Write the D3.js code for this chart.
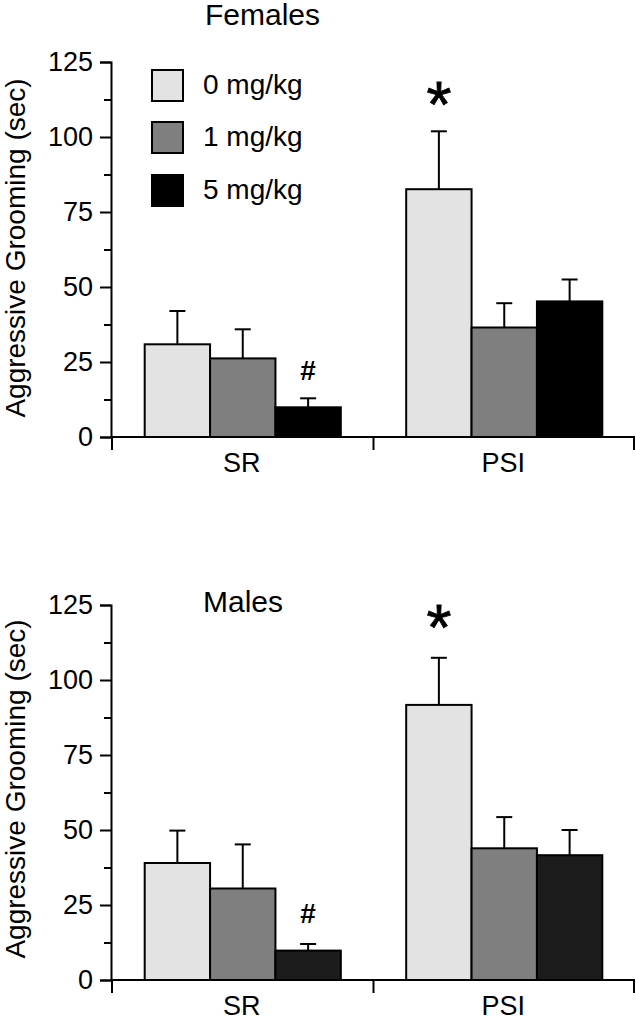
<!DOCTYPE html>
<html>
<head>
<meta charset="utf-8">
<script src="https://cdn.jsdelivr.net/npm/d3@7"></script>
<style>
  html, body { margin: 0; padding: 0; background: #fff; }
  svg { display: block; font-family: "Liberation Sans", Arial, Helvetica, sans-serif; }
</style>
</head>
<body>
<svg id="chart" width="636" height="1020"></svg>
<script>
// ---- data ----
const categories = ["SR", "PSI"];
const doses = ["0 mg/kg", "1 mg/kg", "5 mg/kg"];
const doseColors = ["#e3e3e3", "#7f7f7f", "#000000"];
const doseColorsMales = ["#e3e3e3", "#7f7f7f", "#1c1c1c"];
const yTicks = [0, 25, 50, 75, 100, 125];
const yMinorTicks = [12.5, 37.5, 62.5, 87.5, 112.5];
const yLabel = "Aggressive Grooming (sec)";

// means [category][dose]
const femalesMean = [[30.9, 26.2, 9.9], [82.6, 36.5, 45.2]];
const femalesSem  = [[11.1, 9.7, 3.0], [19.3, 8.1, 7.3]];
const malesMean   = [[39.0, 30.5, 9.8], [91.7, 43.9, 41.6]];
const malesSem    = [[10.8, 14.7, 2.2], [15.7, 10.4, 8.4]];

// significance marks: [category, dose, symbol, value position]
const femalesMarks = [["SR", "5 mg/kg", "#", 22.2], ["PSI", "0 mg/kg", "*", 115.4]];
const malesMarks   = [["SR", "5 mg/kg", "#", 22.3], ["PSI", "0 mg/kg", "*", 122]];

const svg = d3.select("#chart");

function panel(opts) {
  const g = svg.append("g");
  const y = d3.scaleLinear().domain([0, 125]).range([opts.y0, opts.y0 - 375]);
  const x = d3.scaleBand().domain(categories).range([112, 635]).padding(0);
  const bw = x.bandwidth();
  const x1 = d3.scaleBand().domain(doses).range([bw * 0.125, bw * 0.875]).padding(0);

  const rows = [];
  categories.forEach((c, i) => doses.forEach((d, j) => {
    rows.push({cat: c, dose: d, j: j, mean: opts.mean[i][j], sem: opts.sem[i][j]});
  }));

  // error bars (behind bars)
  const eb = g.append("g").attr("stroke", "#000").attr("stroke-width", 2);
  rows.forEach(r => {
    const cx = x(r.cat) + x1(r.dose) + x1.bandwidth() / 2;
    eb.append("line").attr("x1", cx).attr("x2", cx)
      .attr("y1", y(r.mean)).attr("y2", y(r.mean + r.sem));
    eb.append("line").attr("x1", cx - 8).attr("x2", cx + 8)
      .attr("y1", y(r.mean + r.sem)).attr("y2", y(r.mean + r.sem));
  });

  // bars
  g.append("g").selectAll("rect").data(rows).join("rect")
    .attr("x", r => x(r.cat) + x1(r.dose))
    .attr("y", r => y(r.mean))
    .attr("width", x1.bandwidth())
    .attr("height", r => y(0) - y(r.mean))
    .attr("fill", r => opts.colors[r.j])
    .attr("stroke", "#000").attr("stroke-width", 2);

  // y axis
  const ya = g.append("g").attr("transform", "translate(111,0)")
    .call(d3.axisLeft(y).tickValues(yTicks).tickSize(11).tickPadding(7).tickFormat(d3.format("d")));
  ya.select(".domain").attr("stroke-width", 2);
  ya.selectAll(".tick line").attr("stroke-width", 2);
  ya.selectAll("text").attr("font-size", 27).attr("fill", "#000")
    .attr("font-family", "'Liberation Sans', Arial, sans-serif");
  const ym = g.append("g").attr("transform", "translate(111,0)")
    .call(d3.axisLeft(y).tickValues(yMinorTicks).tickSize(7).tickFormat(""));
  ym.select(".domain").remove();
  ym.selectAll(".tick line").attr("stroke-width", 2);

  // x axis
  const xa = g.append("g").attr("stroke", "#000").attr("stroke-width", 2);
  xa.append("line").attr("x1", 111).attr("x2", 635).attr("y1", y(0)).attr("y2", y(0));
  const bounds = [x(categories[0])].concat(categories.map(c => x(c) + bw));
  bounds.forEach(b => {
    const bx = Math.min(b, 634);
    xa.append("line").attr("x1", bx).attr("x2", bx).attr("y1", y(0)).attr("y2", y(0) + 13);
  });
  g.append("g").selectAll("text").data(categories).join("text")
    .attr("x", c => x(c) + bw / 2 - 1)
    .attr("y", y(0) + 35)
    .attr("text-anchor", "middle")
    .attr("font-size", 27).attr("fill", "#000")
    .text(c => c);

  // y label
  g.append("text")
    .attr("transform", `translate(25,${opts.labelY}) rotate(-90)`)
    .attr("text-anchor", "middle")
    .attr("font-size", 28).attr("fill", "#000")
    .text(yLabel);

  // title
  g.append("text").attr("x", opts.titleX).attr("y", opts.titleY)
    .attr("font-size", 30).attr("fill", "#000").text(opts.title);

  // marks
  opts.marks.forEach(m => {
    const cx = x(m[0]) + x1(m[1]) + x1.bandwidth() / 2;
    if (m[2] === "*") {
      g.append("text").attr("x", cx).attr("y", y(m[3]) + 0.57 * 64)
        .attr("text-anchor", "middle").attr("font-size", 64)
        .attr("fill", "#000").attr("stroke", "#000").attr("stroke-width", 0.8).text(m[2]);
    } else {
      g.append("text").attr("x", cx).attr("y", y(m[3]) + 10)
        .attr("text-anchor", "middle").attr("font-size", 28).attr("font-weight", "bold")
        .attr("fill", "#000").text(m[2]);
    }
  });

  // legend
  if (opts.legend) {
    const lg = g.append("g");
    const ly = [70, 122, 175];
    doses.forEach((d, j) => {
      lg.append("rect").attr("x", 152).attr("y", ly[j]).attr("width", 31).attr("height", 31)
        .attr("fill", opts.colors[j]).attr("stroke", "#000").attr("stroke-width", 2);
      lg.append("text").attr("x", 203).attr("y", ly[j] + 24)
        .attr("font-size", 28).attr("fill", "#000").text(d);
    });
  }
}

panel({y0: 437, mean: femalesMean, sem: femalesSem, colors: doseColors, marks: femalesMarks,
       title: "Females", titleX: 205, titleY: 25, labelY: 248, legend: true});
panel({y0: 980, mean: malesMean, sem: malesSem, colors: doseColorsMales, marks: malesMarks,
       title: "Males", titleX: 203, titleY: 612, labelY: 789, legend: false});
</script>
</body>
</html>
